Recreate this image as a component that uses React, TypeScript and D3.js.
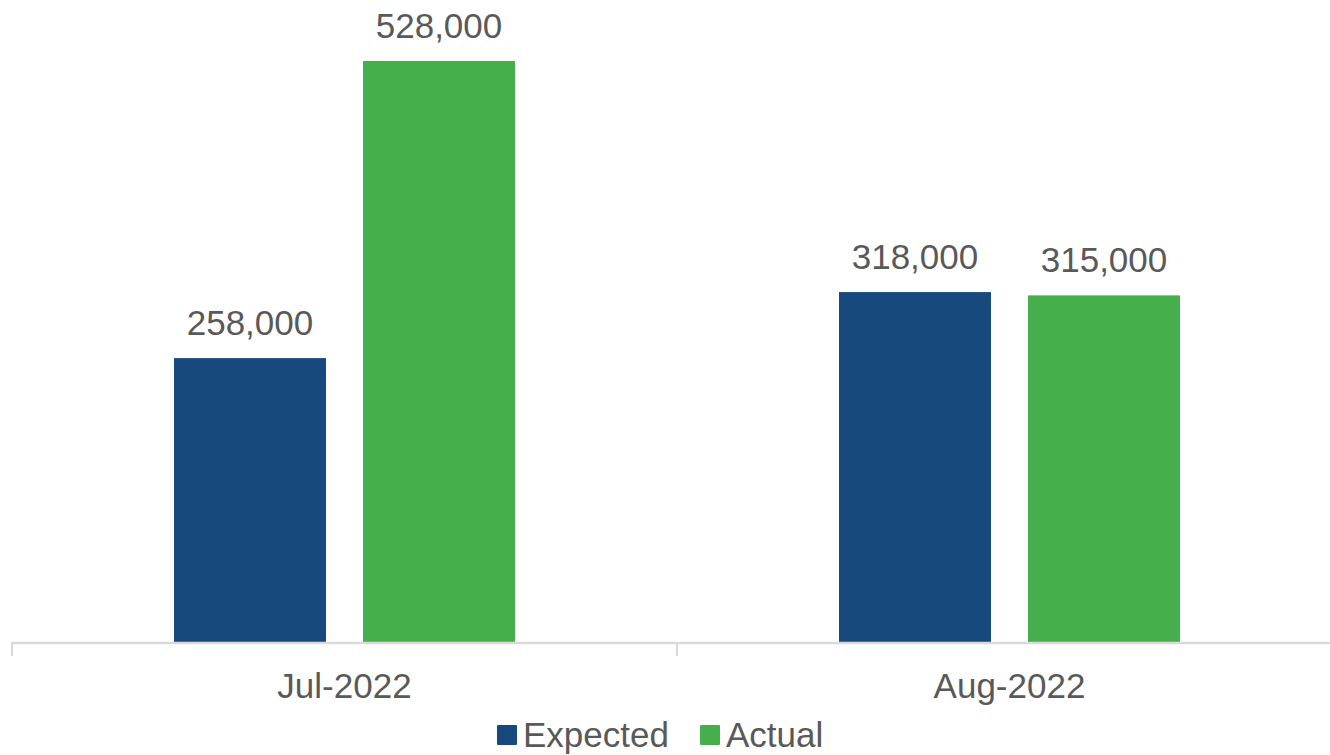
import React from "react";
import * as d3 from "d3";

const categories = ["Jul-2022", "Aug-2022"];
const seriesNames = ["Expected", "Actual"];
const expectedValues = [258000, 318000];
const actualValues = [528000, 315000];
const seriesColors = ["#17497E", "#45B04B"];

const W = 1330;
const H = 755;
const FONT = "'Liberation Sans', Arial, sans-serif";
const TEXT = "#595959";

export default function App() {
  React.useEffect(() => {
    document.body.style.margin = "0";
  }, []);

  const x0 = d3.scaleBand<string>().domain(categories).range([12, 1342]).paddingInner(0).paddingOuter(0);
  const x1 = d3.scaleBand<string>().domain(seriesNames).range([0, x0.bandwidth()]).paddingInner(0.196).paddingOuter(0.857);
  const y = d3.scaleLinear().domain([0, 528000]).range([642, 61]);
  const fmt = d3.format(",");

  const values = [expectedValues, actualValues];

  return (
    <svg width={W} height={H} style={{ display: "block", background: "#fff" }} fontFamily={FONT}>
      {categories.map((c, ci) =>
        seriesNames.map((s, si) => {
          const v = values[si][ci];
          const bx = (x0(c) ?? 0) + (x1(s) ?? 0);
          const bw = x1.bandwidth();
          return (
            <g key={c + s}>
              <rect x={bx} y={y(v)} width={bw} height={y(0) - y(v)} fill={seriesColors[si]} />
              <text x={bx + bw / 2} y={y(v) - 23} textAnchor="middle" fontSize={35} fill={TEXT}>
                {fmt(v)}
              </text>
            </g>
          );
        })
      )}
      <line x1={11} x2={W} y1={y(0) + 1} y2={y(0) + 1} stroke="#D9D9D9" strokeWidth={2.5} />
      {[0, 1].map((i) => {
        const tx = (x0(categories[i]) ?? 0);
        return <line key={i} x1={tx} x2={tx} y1={y(0)} y2={y(0) + 14} stroke="#D9D9D9" strokeWidth={2} />;
      })}
      {categories.map((c) => (
        <text key={c} x={(x0(c) ?? 0) + x0.bandwidth() / 2} y={698} textAnchor="middle" fontSize={35} fill={TEXT}>
          {c}
        </text>
      ))}
      <g>
        <rect x={497} y={725} width={20} height={20} rx={1} fill={seriesColors[0]} />
        <text x={523} y={747} fontSize={35} fill={TEXT}>{seriesNames[0]}</text>
        <rect x={700} y={725} width={20} height={20} rx={1} fill={seriesColors[1]} />
        <text x={726} y={747} fontSize={35} fill={TEXT}>{seriesNames[1]}</text>
      </g>
    </svg>
  );
}
